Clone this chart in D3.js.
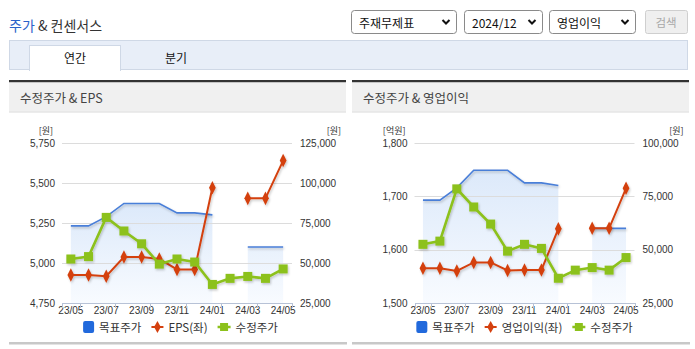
<!DOCTYPE html>
<html><head><meta charset="utf-8">
<script src="https://cdn.jsdelivr.net/npm/d3@7"></script>
<style>
body{margin:0;background:#fff;}
svg{display:block;}
</style></head>
<body><svg id="c" width="695" height="349"></svg>
<script>
// ---------- data ----------
const months = ["23/05","23/06","23/07","23/08","23/09","23/10","23/11","23/12","24/01","24/02","24/03","24/04","24/05"];
const tickLabels = ["23/05","23/07","23/09","23/11","24/01","24/03","24/05"];
const targetPrice = [73200,73200,79000,87200,87200,87200,81300,81300,80100,null,60000,60000,60000];
const adjPrice = [52500,54000,78500,70000,62000,49300,52500,50600,36600,40400,41600,40400,46300];
const eps = [4925,4925,4917,5037,5037,5025,4960,4960,5470,null,5404,5404,5640];
const opIncome = [1565,1565,1560,1576,1576,1561,1562,1562,1639,null,1640,1640,1715];
const epsTicks = [4750,5000,5250,5500,5750];
const priceTicksA = [25000,50000,75000,100000,125000];
const opTicks = [1500,1600,1700,1800];
const priceTicksB = [25000,50000,75000,100000];
const controlLabels = ["주재무제표","2024/12","영업이익"];
const tabLabels = ["연간","분기"];

// ---------- setup ----------
const KR = '"Noto Sans CJK KR","Noto Sans",sans-serif';
const NUM = '"Liberation Sans Narrow","Arial Narrow","Liberation Sans",sans-serif';
const svg = d3.select("#c");
const defs = svg.append("defs");
const f = defs.append("filter").attr("id","sh").attr("x","-20%").attr("y","-20%").attr("width","140%").attr("height","150%");
f.append("feDropShadow").attr("dx",1).attr("dy",1.5).attr("stdDeviation",0.9).attr("flood-color","#000").attr("flood-opacity",0.22);
const gr = defs.append("linearGradient").attr("id","ag").attr("x1",0).attr("y1",0).attr("x2",0).attr("y2",1);
gr.append("stop").attr("offset","0%").attr("stop-color","#dce9fa");
gr.append("stop").attr("offset","100%").attr("stop-color","#f8fbff");

// ---------- header ----------
const h = svg.append("text").attr("x",9).attr("y",25).attr("dominant-baseline","central")
  .style("font-family",KR).style("font-size","14px");
h.append("tspan").attr("fill","#2a62c9").text("주가");
h.append("tspan").attr("fill","#333").text(" & 컨센서스");

const ctrlLayout = [{x:351,w:106},{x:464,w:79},{x:549,w:87}];
controlLabels.forEach((lab,i)=>{
  const L = ctrlLayout[i];
  svg.append("rect").attr("x",L.x+0.5).attr("y",10.5).attr("width",L.w-1).attr("height",23).attr("rx",3)
    .attr("fill","#fff").attr("stroke","#8a8a8a");
  svg.append("text").attr("x",L.x+8).attr("y",22).attr("dominant-baseline","central")
    .style("font-family",KR).style("font-size","12px").attr("fill","#111").text(lab);
  const cx = L.x+L.w-11;
  svg.append("path").attr("d",`M${cx-3.5},${20} L${cx},${23.5} L${cx+3.5},${20}`)
    .attr("fill","none").attr("stroke","#111").attr("stroke-width",2);
});
svg.append("rect").attr("x",645.5).attr("y",10.5).attr("width",42).attr("height",23).attr("rx",2)
  .attr("fill","#efefef").attr("stroke","#cfcfcf");
svg.append("text").attr("x",666).attr("y",22).attr("text-anchor","middle").attr("dominant-baseline","central")
  .style("font-family",KR).style("font-size","11.5px").attr("fill","#a8a8a8").text("검색");

// tabs
svg.append("rect").attr("x",9.5).attr("y",40.5).attr("width",678).attr("height",29)
  .attr("fill","#e8eef8").attr("stroke","#cfd8e6");
svg.append("rect").attr("x",29.5).attr("y",45.5).attr("width",91).attr("height",25)
  .attr("fill","#fff").attr("stroke","#cfd8e6");
svg.append("rect").attr("x",30).attr("y",68).attr("width",90).attr("height",3).attr("fill","#fff");
svg.append("text").attr("x",75).attr("y",57).attr("text-anchor","middle").attr("dominant-baseline","central")
  .style("font-family",KR).style("font-size","12px").attr("fill","#111").text(tabLabels[0]);
svg.append("text").attr("x",176).attr("y",57).attr("text-anchor","middle").attr("dominant-baseline","central")
  .style("font-family",KR).style("font-size","12px").attr("fill","#111").text(tabLabels[1]);

// ---------- charts ----------
function drawChart(cfg){
  const g = svg.append("g");
  // panel
  g.append("rect").attr("x",cfg.px).attr("y",80).attr("width",cfg.pw).attr("height",2.5).attr("fill","#333");
  g.append("rect").attr("x",cfg.px).attr("y",82.5).attr("width",cfg.pw).attr("height",29).attr("fill","#f0f0f0");
  g.append("rect").attr("x",cfg.px).attr("y",111.5).attr("width",cfg.pw).attr("height",1).attr("fill","#dadada");
  g.append("rect").attr("x",cfg.px).attr("y",342).attr("width",cfg.pw+1).attr("height",2.5).attr("fill","#c8c8c8");
  g.append("text").attr("x",cfg.px+11).attr("y",97).attr("dominant-baseline","central")
    .style("font-family",KR).style("font-size","12.5px").attr("fill","#444").text(cfg.title);

  const x0=cfg.x0, x1=cfg.x1, yT=143, yB=303;
  const x = d3.scaleBand().domain(months).range([x0,x1]).padding(0);
  const bw = x.bandwidth();
  const cx = (m)=>x(m)+bw/2;
  const yL = d3.scaleLinear().domain(d3.extent(cfg.leftTicks)).range([yB,yT]);
  const yR = d3.scaleLinear().domain(d3.extent(cfg.rightTicks)).range([yB,yT]);

  // area (target price)
  const tp = months.map((m,i)=>({m,v:targetPrice[i]}));
  g.append("path").datum(tp)
    .attr("d",d3.area().defined(d=>d.v!=null).x(d=>cx(d.m)).y0(yB).y1(d=>yR(d.v)))
    .attr("fill","url(#ag)");

  // grid
  g.selectAll(".grid").data(cfg.leftTicks.slice(1)).join("line")
    .attr("x1",x0).attr("x2",x1).attr("y1",d=>Math.round(yL(d))+0.5).attr("y2",d=>Math.round(yL(d))+0.5)
    .attr("stroke","#dcdcdc");

  // axes
  const ax = g.append("g").attr("transform",`translate(0,${yB})`)
    .call(d3.axisBottom(x).tickValues(tickLabels).tickSize(0).tickSizeOuter(0).tickPadding(4));
  ax.select(".domain").attr("stroke","#b7c2d6");
  ax.selectAll("text").style("font-family",NUM).style("font-size","10px").attr("fill","#333");
  const bounds = [x0].concat(tickLabels.map(m=>x(m)+bw));
  g.selectAll(".tk").data(bounds).join("line")
    .attr("x1",d=>Math.round(d)+0.5).attr("x2",d=>Math.round(d)+0.5).attr("y1",yB).attr("y2",yB+5)
    .attr("stroke","#b7c2d6");

  const al = g.append("g").attr("transform",`translate(${x0},0)`)
    .call(d3.axisLeft(yL).tickValues(cfg.leftTicks).tickSize(0).tickPadding(7).tickFormat(d3.format(",")));
  al.select(".domain").remove();
  al.selectAll("text").style("font-family",NUM).style("font-size","10px").attr("fill","#333");
  const ar = g.append("g").attr("transform",`translate(${x1},0)`)
    .call(d3.axisRight(yR).tickValues(cfg.rightTicks).tickSize(0).tickPadding(8).tickFormat(d3.format(",")));
  ar.select(".domain").remove();
  ar.selectAll("text").style("font-family",NUM).style("font-size","10px").attr("fill","#333");

  g.append("text").attr("x",x0-9).attr("y",130).attr("text-anchor","end").attr("dominant-baseline","central")
    .style("font-family",KR).style("font-size","9px").attr("fill","#333").text(cfg.leftUnit);
  g.append("text").attr("x",x1+49).attr("y",130).attr("text-anchor","end").attr("dominant-baseline","central")
    .style("font-family",KR).style("font-size","9px").attr("fill","#333").text("[원]");

  // target price line
  g.append("path").datum(tp)
    .attr("d",d3.line().defined(d=>d.v!=null).x(d=>cx(d.m)).y(d=>yR(d.v)))
    .attr("fill","none").attr("stroke","#4a7fd8").attr("stroke-width",1.6).attr("filter","url(#sh)");

  // left series (red)
  const ls = months.map((m,i)=>({m,v:cfg.leftData[i]}));
  const rg = g.append("g").attr("filter","url(#sh)");
  rg.append("path").datum(ls)
    .attr("d",d3.line().defined(d=>d.v!=null).x(d=>cx(d.m)).y(d=>yL(d.v)))
    .attr("fill","none").attr("stroke","#d4400f").attr("stroke-width",2);
  rg.selectAll(".dm").data(ls.filter(d=>d.v!=null)).join("path")
    .attr("d",d3.symbol(d3.symbolDiamond,40)())
    .attr("transform",d=>`translate(${cx(d.m)},${yL(d.v)}) scale(1,1.15)`)
    .attr("fill","#d4400f");

  // adjusted price (green)
  const ps = months.map((m,i)=>({m,v:adjPrice[i]}));
  const gg = g.append("g").attr("filter","url(#sh)");
  gg.append("path").datum(ps)
    .attr("d",d3.line().x(d=>cx(d.m)).y(d=>yR(d.v)))
    .attr("fill","none").attr("stroke","#8cc11b").attr("stroke-width",2.6);
  gg.selectAll(".sq").data(ps).join("rect")
    .attr("x",d=>cx(d.m)-4.5).attr("y",d=>yR(d.v)-4.5).attr("width",9).attr("height",9)
    .attr("fill","#8cc11b");

  // legend
  const lg = g.append("g").attr("transform",`translate(0,327)`);
  const items = [{t:"rect",label:"목표주가"},{t:"dia",label:cfg.leftName},{t:"sq",label:"수정주가"}];
  let cur = 0;
  items.forEach((it,i)=>{
    const ig = lg.append("g").attr("transform",`translate(${cur},0)`);
    let sw;
    if(it.t==="rect"){
      sw=11;
      ig.append("rect").attr("x",0).attr("y",-6).attr("width",11).attr("height",12).attr("rx",2).attr("fill","#2169dc");
    } else if(it.t==="dia"){
      sw=12;
      ig.append("line").attr("x1",0).attr("x2",12).attr("y1",0).attr("y2",0).attr("stroke","#d4400f").attr("stroke-width",2);
      ig.append("path").attr("d",d3.symbol(d3.symbolDiamond,40)()).attr("transform","translate(6,0)").attr("fill","#d4400f");
    } else {
      sw=13;
      ig.append("line").attr("x1",0).attr("x2",13).attr("y1",0).attr("y2",0).attr("stroke","#8cc11b").attr("stroke-width",2.5);
      ig.append("rect").attr("x",2.5).attr("y",-4).attr("width",8).attr("height",8).attr("fill","#8cc11b");
    }
    const tx = ig.append("text").attr("x",sw+5).attr("y",0).attr("dominant-baseline","central")
      .style("font-family",KR).style("font-size","11.5px").attr("fill","#333").text(it.label);
    cur += sw+5+tx.node().getComputedTextLength()+10;
  });
  const total = cur-10;
  lg.attr("transform",`translate(${cfg.legendCenter-total/2},327)`);
}

drawChart({px:9,pw:337,title:"수정주가 & EPS",x0:62,x1:292,leftTicks:epsTicks,rightTicks:priceTicksA,
  leftUnit:"[원]",leftData:eps,leftName:"EPS(좌)",legendCenter:180.5});
drawChart({px:352,pw:337,title:"수정주가 & 영업이익",x0:414.5,x1:634.5,leftTicks:opTicks,rightTicks:priceTicksB,
  leftUnit:"[억원]",leftData:opIncome,leftName:"영업이익(좌)",legendCenter:524.5});
</script>
</body></html>
